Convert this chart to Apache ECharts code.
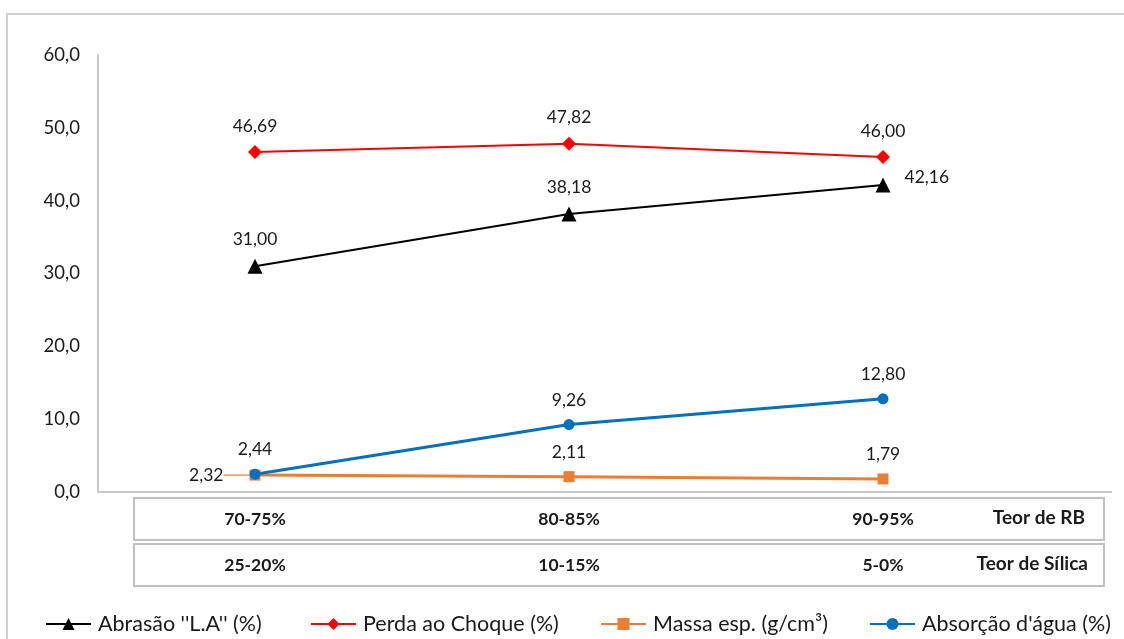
<!DOCTYPE html>
<html>
<head>
<meta charset="utf-8">
<script src="https://cdn.jsdelivr.net/npm/echarts@6/dist/echarts.min.js"></script>
<style>
  html, body { margin: 0; padding: 0; background: #fff; }
  #chart { width: 1124px; height: 639px; }
</style>
</head>
<body>
<div id="chart"></div>
<script>
// Ensaios por teor de RB / sílica
const teorRB = ['70-75%', '80-85%', '90-95%'];
const teorSilica = ['25-20%', '10-15%', '5-0%'];
const abrasao = [31.00, 38.18, 42.16];
const perdaChoque = [46.69, 47.82, 46.00];
const massaEsp = [2.32, 2.11, 1.79];
const absorcao = [2.44, 9.26, 12.80];
const seriesNames = ["Abrasão ''L.A'' (%)", 'Perda ao Choque (%)', 'Massa esp. (g/cm³)', "Absorção d'água (%)"];

const FONT = 'Lato, "Open Sans", sans-serif';
const TXT = '#1a1a1a';
const fmt2 = v => v.toFixed(2).replace('.', ',');

const chart = echarts.init(document.getElementById('chart'));

function labelStyle(pos) {
  return {
    show: true,
    position: pos,
    distance: 10,
    fontFamily: FONT,
    fontSize: 17.5,
    color: TXT,
    formatter: p => fmt2(p.value)
  };
}

const legendBase = {
  top: 608,
  itemWidth: 45,
  itemHeight: 15,
  itemGap: 8,
  textStyle: { fontFamily: FONT, fontSize: 21.5, color: TXT, padding: [0, 0, 0, 2] }
};

chart.setOption({
  animation: false,
  grid: { left: 98, top: 55, width: 942, height: 437 },
  legend: [
    Object.assign({ left: 40, data: [seriesNames[0]] }, legendBase),
    Object.assign({ left: 305, data: [seriesNames[1]] }, legendBase),
    Object.assign({ left: 595, data: [seriesNames[2]] }, legendBase),
    Object.assign({ left: 864, data: [seriesNames[3]] }, legendBase)
  ],
  xAxis: [
    {
      type: 'category',
      data: teorRB,
      position: 'bottom',
      axisLine: { show: true, lineStyle: { color: '#c8c8c8', width: 2 } },
      axisTick: { show: false },
      axisLabel: { margin: 18, fontFamily: FONT, fontSize: 17.5, fontWeight: 'bold', color: TXT }
    },
    {
      type: 'category',
      data: teorSilica,
      position: 'bottom',
      offset: 46,
      axisLine: { show: false },
      axisTick: { show: false },
      axisLabel: { margin: 18, fontFamily: FONT, fontSize: 17.5, fontWeight: 'bold', color: TXT }
    }
  ],
  yAxis: {
    type: 'value',
    min: 0,
    max: 60,
    interval: 10,
    axisLine: { show: true, lineStyle: { color: '#c8c8c8', width: 2 } },
    axisTick: { show: false },
    splitLine: { show: false },
    axisLabel: {
      margin: 18,
      fontFamily: FONT,
      fontSize: 18.5,
      color: TXT,
      formatter: v => v.toFixed(1).replace('.', ',')
    }
  },
  series: [
    {
      name: seriesNames[0],
      type: 'line',
      data: abrasao.map((v, i) => i === 2
        ? { value: v, label: { position: 'right', distance: 14, offset: [0, -8] } }
        : v),
      symbol: 'triangle',
      symbolSize: 15,
      lineStyle: { color: '#000', width: 2 },
      itemStyle: { color: '#000' },
      label: labelStyle('top'),
      z: 3
    },
    {
      name: seriesNames[1],
      type: 'line',
      data: perdaChoque,
      symbol: 'diamond',
      symbolSize: 14,
      lineStyle: { color: '#ff0000', width: 2 },
      itemStyle: { color: '#ff0000' },
      label: labelStyle('top'),
      z: 3
    },
    {
      name: seriesNames[2],
      type: 'line',
      // first label sits to the left, tied back to its point by a guide line
      data: massaEsp.map((v, i) => i === 0
        ? {
            value: v,
            label: { position: 'left', distance: 4 },
            labelLine: { show: true, smooth: 0.4, length2: 0, lineStyle: { color: '#ed7d31', width: 1.2 } }
          }
        : v),
      symbol: 'rect',
      symbolSize: 11,
      lineStyle: { color: '#ed7d31', width: 3 },
      itemStyle: { color: '#ed7d31' },
      label: labelStyle('top'),
      labelLayout: p => p.dataIndex === 0 ? { dx: -22, dy: 0 } : {},
      labelLine: { show: false },
      z: 2
    },
    {
      name: seriesNames[3],
      type: 'line',
      data: absorcao,
      symbol: 'circle',
      symbolSize: 11,
      lineStyle: { color: '#0070c0', width: 3 },
      itemStyle: { color: '#0070c0' },
      label: labelStyle('top'),
      z: 4
    }
  ],
  graphic: [
    // chart frame
    { type: 'rect', z: -10, shape: { x: 7, y: 14, width: 1130, height: 640 },
      style: { fill: 'none', stroke: '#d0d0d0', lineWidth: 2 } },
    // baseline continues under the row titles
    { type: 'line', shape: { x1: 1040, y1: 492, x2: 1112, y2: 492 },
      style: { stroke: '#c8c8c8', lineWidth: 2 } },
    // category table rows
    { type: 'rect', shape: { x: 134, y: 498, width: 970, height: 42 },
      style: { fill: 'none', stroke: '#c0c0c0', lineWidth: 2 } },
    { type: 'rect', shape: { x: 134, y: 544, width: 970, height: 42 },
      style: { fill: 'none', stroke: '#c0c0c0', lineWidth: 2 } },
    { type: 'text', right: 1124 - 1085, top: 508,
      style: { text: 'Teor de RB', fontFamily: FONT, fontSize: 19, fontWeight: 'bold', fill: TXT } },
    { type: 'text', right: 1124 - 1088, top: 554,
      style: { text: 'Teor de Sílica', fontFamily: FONT, fontSize: 19, fontWeight: 'bold', fill: TXT } }
  ]
});
</script>
</body>
</html>
